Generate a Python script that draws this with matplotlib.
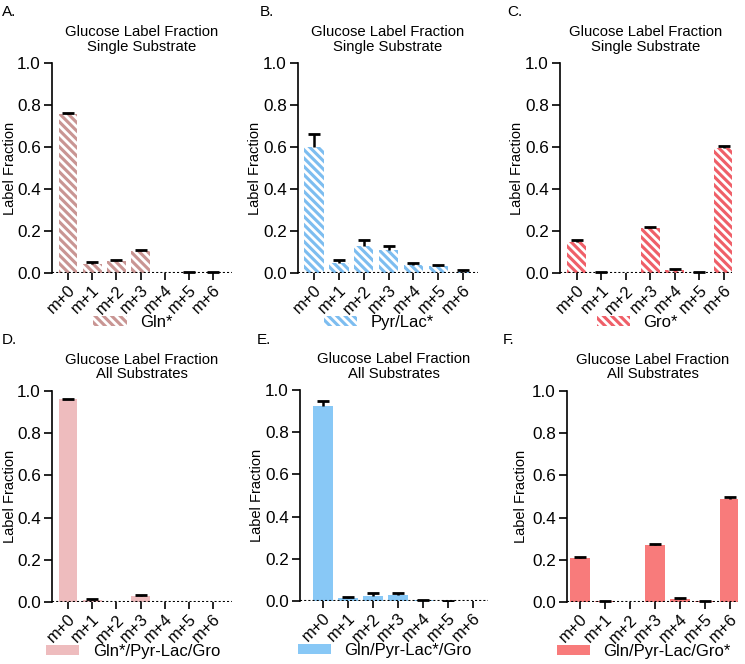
import matplotlib
matplotlib.use("Agg")
import matplotlib.pyplot as plt
import numpy as np

plt.rcParams["font.family"] = ["Liberation Sans", "DejaVu Sans"]
plt.rcParams["hatch.linewidth"] = 2.0

# isotopologues
isotopologues = ["m+0", "m+1", "m+2", "m+3", "m+4", "m+5", "m+6"]

# single substrate tracing
gln_mean = [0.755, 0.045, 0.055, 0.105, 0.0, 0.003, 0.003]
gln_err = [0.005, 0.006, 0.005, 0.005, 0.0, 0.003, 0.003]
pyrlac_mean = [0.60, 0.050, 0.130, 0.110, 0.040, 0.032, 0.006]
pyrlac_err = [0.060, 0.010, 0.025, 0.020, 0.008, 0.008, 0.006]
gro_mean = [0.148, 0.002, 0.0, 0.215, 0.012, 0.002, 0.595]
gro_err = [0.007, 0.003, 0.0, 0.005, 0.005, 0.003, 0.008]

# all substrates, one labelled
all_gln_mean = [0.960, 0.008, 0.0, 0.030, 0.0, 0.0, 0.0]
all_gln_err = [0.003, 0.004, 0.0, 0.003, 0.0, 0.0, 0.0]
all_pyrlac_mean = [0.925, 0.012, 0.025, 0.028, 0.003, 0.001, 0.0]
all_pyrlac_err = [0.025, 0.008, 0.013, 0.010, 0.002, 0.001, 0.0]
all_gro_mean = [0.210, 0.005, 0.0, 0.272, 0.015, 0.004, 0.490]
all_gro_err = [0.005, 0.002, 0.0, 0.004, 0.004, 0.002, 0.006]

W, H = 745, 664
fig = plt.figure(figsize=(W / 100, H / 100), dpi=100)

panels = [
    # letter, subtitle, legend, mean, err, color, hatched, (left, right, top, bottom) px, xlim, letter pos, ylabel offset px
    ("A.", "Single Substrate", "Gln*", gln_mean, gln_err, "#c99593", True,
     (52, 232, 63, 273), (-0.66, 6.78), (2, 12), -42),
    ("B.", "Single Substrate", "Pyr/Lac*", pyrlac_mean, pyrlac_err, "#7dbdf0", True,
     (298, 478, 63, 273), (-0.65, 6.6), (260, 12), -43),
    ("C.", "Single Substrate", "Gro*", gro_mean, gro_err, "#ef5f68", True,
     (560, 732, 63, 273), (-0.69, 6.33), (507, 12), -43),
    ("D.", "All Substrates", "Gln*/Pyr-Lac/Gro", all_gln_mean, all_gln_err, "#eebcbe", False,
     (52, 232, 391, 602), (-0.66, 6.78), (2, 340), -42),
    ("E.", "All Substrates", "Gln/Pyr-Lac*/Gro", all_pyrlac_mean, all_pyrlac_err, "#88c8f6", False,
     (300, 488, 390, 601), (-0.92, 6.6), (257, 340), -43),
    ("F.", "All Substrates", "Gln/Pyr-Lac/Gro*", all_gro_mean, all_gro_err, "#f87b7b", False,
     (567, 738, 391, 602), (-0.52, 6.32), (503, 340), -46),
]

for letter, sub, leg, mean, err, color, hatched, box, xlim, lpos, yl_off in panels:
    l, r, t, b = box
    ax = fig.add_axes([l / W, 1 - b / H, (r - l) / W, (b - t) / H])
    x = np.arange(len(isotopologues))
    mean = np.array(mean)
    err = np.array(err)
    if hatched:
        ax.bar(x, mean, width=0.78, color=color, edgecolor="white", linewidth=0,
               hatch="\\\\\\\\", label=leg, zorder=2)
    else:
        ax.bar(x, mean, width=0.78, color=color, linewidth=0, label=leg, zorder=2)
    show = err > 0
    eb = ax.errorbar(x[show], mean[show], yerr=[np.zeros(show.sum()), err[show]],
                     fmt="none", ecolor="black", elinewidth=1.8, capsize=4.5,
                     capthick=2, zorder=3)
    # one-sided bars: hide the lower cap
    eb[1][0].set_visible(False)
    ax.axhline(0, color="black", ls=(0, (1, 1)), lw=1.5, zorder=4)

    ax.set_xlim(*xlim)
    ax.set_ylim(0, 1.0)
    ax.set_yticks([0, 0.2, 0.4, 0.6, 0.8, 1.0])
    ax.set_yticklabels(["0.0", "0.2", "0.4", "0.6", "0.8", "1.0"], fontsize=12.3)
    ax.set_xticks(x)
    ax.set_xticklabels(isotopologues, rotation=45, ha="right",
                       rotation_mode="anchor", fontsize=12)
    for s in ["top", "right", "bottom"]:
        ax.spines[s].set_visible(False)
    ax.spines["left"].set_linewidth(1.2)
    ax.tick_params(axis="y", length=6, width=1.2, pad=2)
    ax.tick_params(axis="x", length=5, width=1.2, pad=2)
    ax.set_ylabel("Label Fraction", fontsize=10.5, va="center")
    ax.yaxis.set_label_coords(yl_off / (r - l), 0.5)
    ax.set_title("Glucose Label Fraction\n" + sub, fontsize=10.7, pad=9,
                 linespacing=1.05)
    ax.legend(loc="center", bbox_to_anchor=(0.45, -0.235), frameon=False,
              fontsize=12, handlelength=2.0, handleheight=0.55, handletextpad=0.8)

    fig.text(lpos[0] / W, 1 - lpos[1] / H, letter, fontsize=11,
             ha="left", va="center")

fig.savefig("out.png", dpi=100)
